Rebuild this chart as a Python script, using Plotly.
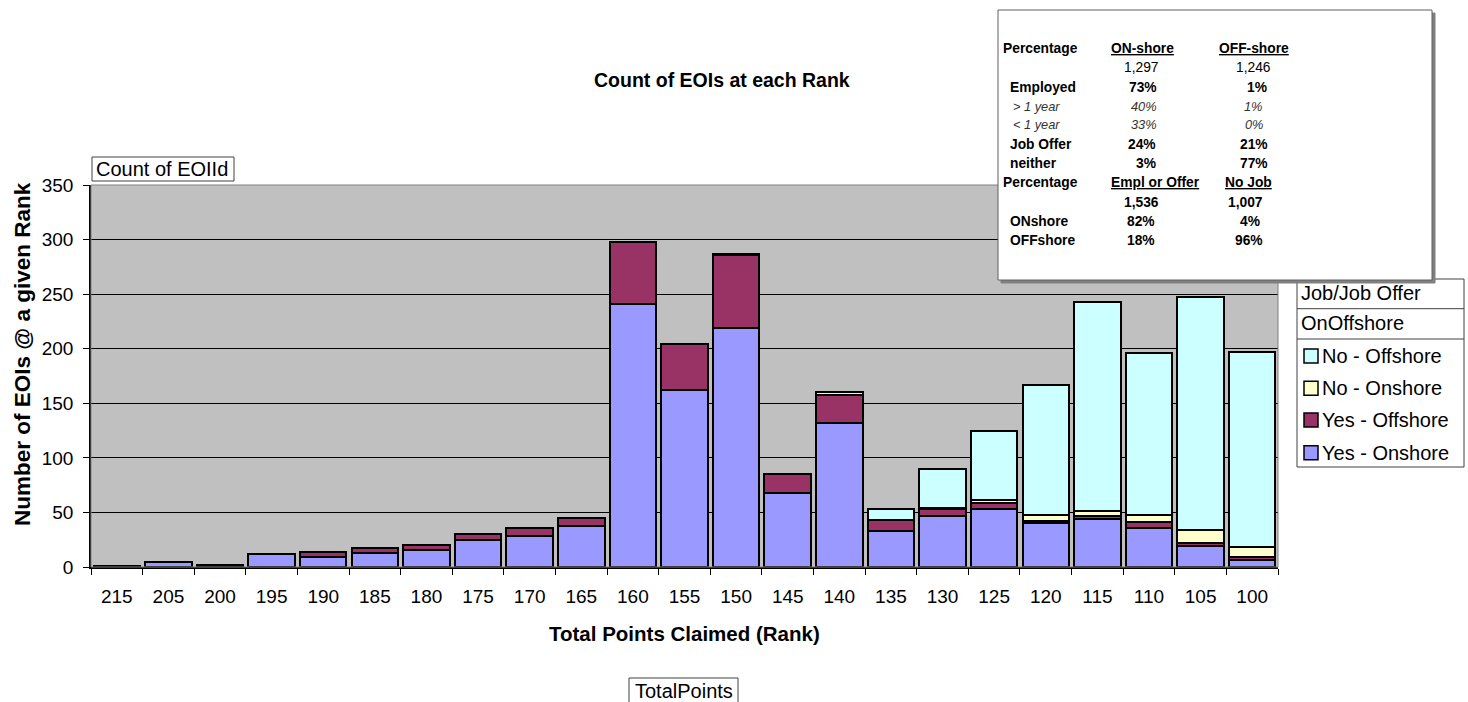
import plotly.graph_objects as go

# Ranks (total points claimed), highest first
ranks = ["215", "205", "200", "195", "190", "185", "180", "175", "170", "165", "160", "155",
         "150", "145", "140", "135", "130", "125", "120", "115", "110", "105", "100"]

# EOI counts per rank, split by Job/Job Offer and On/Offshore
yes_onshore = [1, 5, 2, 12, 9, 13, 16, 25, 28, 38, 241, 162, 219, 68, 132, 33, 47, 53, 40, 44, 36, 19, 6]
yes_offshore = [0, 0, 0, 0, 5, 4, 4, 5, 8, 7, 57, 42, 67, 17, 26, 10, 6, 6, 2, 3, 5, 3, 3]
no_onshore = [0, 0, 0, 0, 0, 0, 0, 0, 0, 0, 0, 0, 0, 0, 0, 0, 1, 2, 6, 4, 7, 12, 9]
no_offshore = [0, 0, 0, 0, 0, 0, 0, 0, 0, 0, 0, 0, 1, 0, 2, 10, 36, 64, 119, 192, 148, 213, 179]

y_ticks = [0, 50, 100, 150, 200, 250, 300, 350]

series = [
    ("Yes - Onshore", yes_onshore, "#9999FF"),
    ("Yes - Offshore", yes_offshore, "#993366"),
    ("No - Onshore", no_onshore, "#FFFFCC"),
    ("No - Offshore", no_offshore, "#CCFFFF"),
]

# Summary table rows: (label, label style, col1, col2, value style)
table_rows = [
    ("Percentage", "b", "<u>ON-shore</u>", "<u>OFF-shore</u>", "hdr"),
    ("", "", "1,297", "1,246", "n"),
    ("Employed", "b", "73%", "1%", "b"),
    ("> 1 year", "i", "40%", "1%", "i"),
    ("< 1 year", "i", "33%", "0%", "i"),
    ("Job Offer", "b", "24%", "21%", "b"),
    ("neither", "b", "3%", "77%", "b"),
    ("Percentage", "b", "<u>Empl or Offer</u>", "<u>No Job</u>", "hdr"),
    ("", "", "1,536", "1,007", "b"),
    ("ONshore", "b", "82%", "4%", "b"),
    ("OFFshore", "b", "18%", "96%", "b"),
]

FONT = "Liberation Sans, Arial, sans-serif"
L, T, R, B = 91, 185, 1278, 567
W, H = R - L, B - T


def px(x):
    return (x - L) / W


def py(y):
    return 1 - (y - T) / H


fig = go.Figure()
for name, vals, color in series:
    fig.add_trace(go.Bar(
        x=ranks, y=vals, name=name, showlegend=False,
        marker=dict(color=color, line=dict(color="black", width=2)),
    ))

shapes = []
annotations = []


def text(x, y, s, size=20, xanchor="left", bold=False, italic=False, color="black"):
    if bold:
        s = "<b>" + s + "</b>"
    if italic:
        s = "<i>" + s + "</i>"
    annotations.append(dict(
        x=px(x), y=py(y), xref="paper", yref="paper", text=s, showarrow=False,
        xanchor=xanchor, yanchor="middle", font=dict(family=FONT, size=size, color=color),
        borderpad=0,
    ))


def rect(x0, y0, x1, y1, fill="rgba(0,0,0,0)", line="black", lw=1):
    shapes.append(dict(
        type="rect", xref="paper", yref="paper", layer="above",
        x0=px(x0), x1=px(x1), y0=py(y1), y1=py(y0),
        fillcolor=fill, line=dict(color=line, width=lw),
    ))


# plot area border (top/right)
rect(L, T, R, B, line="#808080", lw=1)

# title and axis titles
text(722, 80, "Count of EOIs at each Rank", size=19.5, xanchor="center", bold=True)
text(685, 633, "Total Points Claimed (Rank)", size=20.5, xanchor="center", bold=True)
annotations.append(dict(
    x=px(22), y=py(354), xref="paper", yref="paper", showarrow=False,
    text="<b>Number of EOIs @ a given Rank</b>", textangle=-90,
    xanchor="center", yanchor="middle", font=dict(family=FONT, size=22.5, color="black"),
))

# pivot field buttons
rect(92, 157, 234, 181, fill="white", line="#404040")
text(95, 169, "Count of EOIId", size=20)
rect(629, 678, 738, 704, fill="white", line="#404040")
text(634, 691, "TotalPoints", size=20)

# legend block
rect(1297, 279, 1464, 467, fill="white", line="#404040")
shapes.append(dict(type="line", xref="paper", yref="paper", layer="above",
                   x0=px(1297), x1=px(1464), y0=py(308.7), y1=py(308.7),
                   line=dict(color="#404040", width=1)))
shapes.append(dict(type="line", xref="paper", yref="paper", layer="above",
                   x0=px(1297), x1=px(1464), y0=py(339), y1=py(339),
                   line=dict(color="#404040", width=1)))
text(1300, 293, "Job/Job Offer", size=20)
text(1300, 323, "OnOffshore", size=20)
legend_y = [356, 388.3, 420, 452.7]
for (name, vals, color), ly in zip(reversed(series), legend_y):
    rect(1304, ly - 7, 1318, ly + 7, fill=color, line="black", lw=1.5)
    text(1321, ly, name, size=20)

# summary table (shadow, box, text)
rect(1001, 13, 1435, 283, fill="#808080", line="#808080")
rect(998, 10, 1432, 280, fill="white", line="#606060")

row_y = [48.3, 67.7, 87.7, 106, 125, 144, 163.3, 182.7, 202, 221.7, 240.7]
label_x = {"Percentage": 1002}
col1_x = [1110, 1160, 1157.7, 1158, 1158, 1157, 1157, 1110, 1160, 1156, 1156]
col2_x = [1218, 1272, 1268.3, 1264, 1265, 1269, 1269, 1224.3, 1264, 1261, 1264]
for (lab, lst, v1, v2, vst), ry, c1, c2 in zip(table_rows, row_y, col1_x, col2_x):
    if lab:
        lx = label_x.get(lab, 1012 if lst == "i" else 1009)
        text(lx, ry, lab, size=12.8 if lst == "i" else 13.8,
             bold=(lst == "b"), italic=(lst == "i"), color="#333333" if lst == "i" else "black")
    if vst == "hdr":
        text(c1, ry, v1, size=13.8, bold=True)
        text(c2, ry, v2, size=13.8, bold=True)
    else:
        sz = 12.8 if vst == "i" else 13.8
        col = "#333333" if vst == "i" else "black"
        text(c1, ry, v1, size=sz, xanchor="right", bold=(vst == "b"), italic=(vst == "i"), color=col)
        text(c2, ry, v2, size=sz, xanchor="right", bold=(vst == "b"), italic=(vst == "i"), color=col)

fig.update_layout(
    width=1468, height=702, autosize=False,
    margin=dict(l=L, r=1468 - R, t=T, b=702 - B, pad=0),
    paper_bgcolor="white", plot_bgcolor="#C0C0C0",
    barmode="stack", bargap=0.1,
    font=dict(family=FONT, size=20, color="black"),
    shapes=shapes, annotations=annotations,
    showlegend=False,
    xaxis=dict(
        type="category", categoryorder="array", categoryarray=ranks,
        showline=True, linecolor="black", linewidth=1.5,
        ticks="outside", ticklen=6, tickcolor="black", tickson="boundaries",
        tickfont=dict(family=FONT, size=19, color="black"), ticklabelstandoff=11,
        showgrid=False, zeroline=False,
    ),
    yaxis=dict(
        range=[0, 350], tickvals=y_ticks,
        showline=True, linecolor="black", linewidth=1.5,
        ticks="outside", ticklen=6, tickcolor="black",
        tickfont=dict(family=FONT, size=19, color="black"), ticklabelstandoff=6,
        showgrid=True, gridcolor="black", gridwidth=1, zeroline=False,
    ),
)

fig.write_html("out.html")
